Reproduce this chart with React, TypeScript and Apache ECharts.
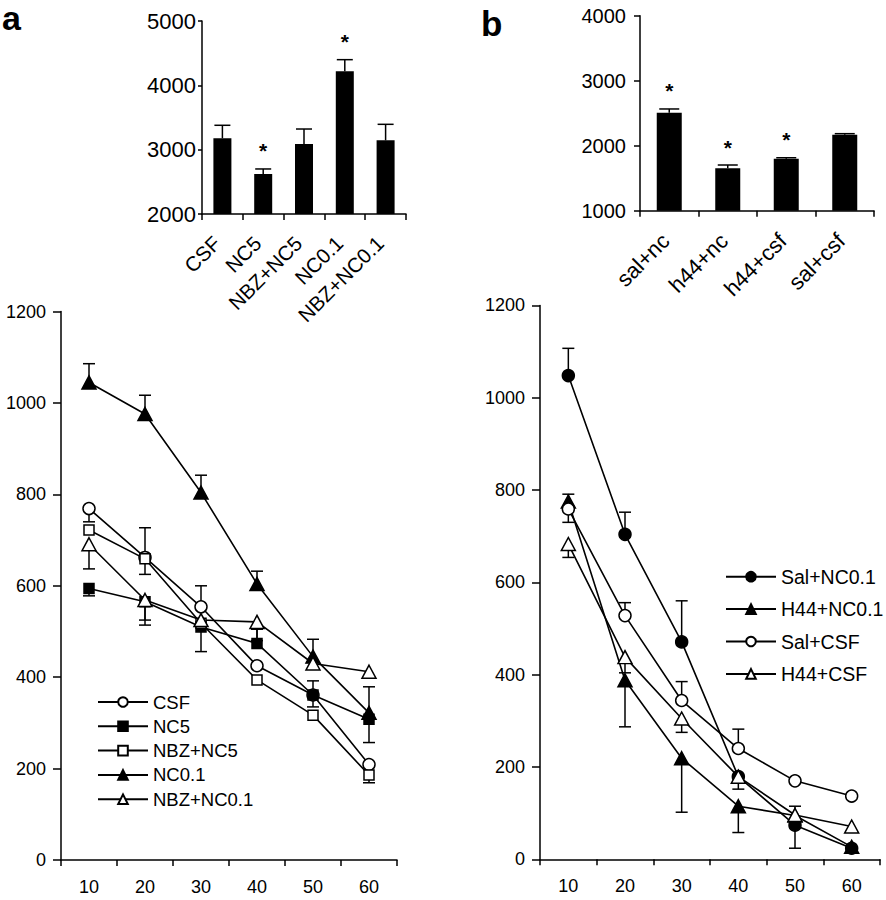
import React, { useEffect, useRef } from 'react';
import * as echarts from 'echarts';

const FONT = '"Liberation Sans", Arial, Helvetica, sans-serif';

// ---- Panel a (top): bar chart ----
const barCatsA = ['CSF', 'NC5', 'NBZ+NC5', 'NC0.1', 'NBZ+NC0.1'];
const barValsA = [3177, 2622, 3088, 4218, 3145];
const barErrTopA = [3379, 2700, 3321, 4399, 3394];
const barSigA = [false, true, false, true, false];

// ---- Panel b (top): bar chart ----
const barCatsB = ['sal+nc', 'h44+nc', 'h44+csf', 'sal+csf'];
const barValsB = [2508, 1652, 1800, 2169];
const barErrTopB = [2565, 1703, 1815, 2185];
const barSigB = [true, true, true, false];

// ---- Time categories (bottom charts) ----
const timeCats = ['10', '20', '30', '40', '50', '60'];

// ---- Panel a (bottom): line chart ----
const aCSF = [769, 662, 554, 425, 361, 209];
const aCSFErr = [740, 727, 600, null, 392, null];
const aNC5 = [594, 565, 510, 474, 361, 308];
const aNC5Err = [578, 514, 456, 505, 335, 257];
const aNBZNC5 = [722, 659, 518, 394, 317, 186];
const aNBZNC5Err = [null, 625, null, null, null, 169];
const aNC01 = [1045, 976, 804, 604, 445, 322];
const aNC01Err = [1086, 1017, 842, 632, 483, 379];
const aNBZNC01 = [691, 569, 525, 521, 430, 412];
const aNBZNC01Err = [637, 525, null, 480, null, null];

// ---- Panel b (bottom): line chart ----
const bSalNC01 = [1048, 704, 471, 179, 74, 24];
const bSalNC01Err = [1107, 752, 560, null, 24, null];
const bH44NC01 = [775, 388, 219, 115, 95, 27];
const bH44NC01Err = [791, 287, 102, 58, null, null];
const bSalCSF = [759, 528, 344, 240, 170, 137];
const bSalCSFErr = [730, 556, 385, 282, null, null];
const bH44CSF = [683, 438, 305, 179, 96, 71];
const bH44CSFErr = [654, 404, 275, 152, 115, null];

type LineDef = { name: string; values: number[]; err: (number | null)[]; symbol: string; filled: boolean };

const leftLines: LineDef[] = [
  { name: 'CSF', values: aCSF, err: aCSFErr, symbol: 'circle', filled: false },
  { name: 'NC5', values: aNC5, err: aNC5Err, symbol: 'rect', filled: true },
  { name: 'NBZ+NC5', values: aNBZNC5, err: aNBZNC5Err, symbol: 'rect', filled: false },
  { name: 'NC0.1', values: aNC01, err: aNC01Err, symbol: 'triangle', filled: true },
  { name: 'NBZ+NC0.1', values: aNBZNC01, err: aNBZNC01Err, symbol: 'triangle', filled: false },
];

const rightLines: LineDef[] = [
  { name: 'Sal+NC0.1', values: bSalNC01, err: bSalNC01Err, symbol: 'circle', filled: true },
  { name: 'H44+NC0.1', values: bH44NC01, err: bH44NC01Err, symbol: 'triangle', filled: true },
  { name: 'Sal+CSF', values: bSalCSF, err: bSalCSFErr, symbol: 'circle', filled: false },
  { name: 'H44+CSF', values: bH44CSF, err: bH44CSFErr, symbol: 'triangle', filled: false },
];

const symbolSize = (s: string) => (s === 'triangle' ? [14, 13] : s === 'rect' ? 10 : 12);

const errorRender = (capHalf: number) => (params: any, api: any) => {
  const x = api.value(0);
  const v = api.value(1);
  const e = api.value(2);
  const p0 = api.coord([x, v]);
  const p1 = api.coord([x, e]);
  const st = { stroke: '#000', lineWidth: 1.5 };
  return {
    type: 'group',
    children: [
      { type: 'line', shape: { x1: p0[0], y1: p0[1], x2: p1[0], y2: p1[1] }, style: st },
      { type: 'line', shape: { x1: p1[0] - capHalf, y1: p1[1], x2: p1[0] + capHalf, y2: p1[1] }, style: st },
    ],
  };
};

const starRender = (params: any, api: any) => {
  const x = api.value(0);
  const e = api.value(1);
  const p = api.coord([x, e]);
  return {
    type: 'text',
    x: p[0],
    y: p[1] - 18,
    style: { text: '*', font: `bold 21px ${FONT}`, fill: '#000', align: 'center', verticalAlign: 'middle' },
  };
};

const axisLineStyle = { color: '#000', width: 1.5 };
const plainNumber = (v: number) => String(v);

function lineSeries(defs: LineDef[], axisIdx: number) {
  const out: any[] = [];
  defs.forEach((d) => {
    out.push({
      name: d.name,
      type: 'line',
      xAxisIndex: axisIdx,
      yAxisIndex: axisIdx,
      data: d.values,
      symbol: d.symbol,
      symbolSize: symbolSize(d.symbol),
      lineStyle: { color: '#000', width: 1.6 },
      itemStyle: { color: d.filled ? '#000' : '#fff', borderColor: '#000', borderWidth: 1.5 },
      z: 3,
    });
  });
  const errData: any[] = [];
  defs.forEach((d) => {
    d.err.forEach((e, i) => {
      if (e !== null) errData.push([i, d.values[i], e]);
    });
  });
  out.push({
    type: 'custom',
    xAxisIndex: axisIdx,
    yAxisIndex: axisIdx,
    renderItem: errorRender(6),
    data: errData,
    clip: false,
    z: 2,
  });
  return out;
}

function barSeries(vals: number[], errTop: number[], sig: boolean[], axisIdx: number, barWidth: number, capHalf: number) {
  return [
    {
      type: 'bar',
      xAxisIndex: axisIdx,
      yAxisIndex: axisIdx,
      data: vals,
      barWidth,
      itemStyle: { color: '#000' },
      z: 3,
    },
    {
      type: 'custom',
      xAxisIndex: axisIdx,
      yAxisIndex: axisIdx,
      renderItem: errorRender(capHalf),
      data: vals.map((v, i) => [i, v, errTop[i]]),
      clip: false,
      z: 2,
    },
    {
      type: 'custom',
      xAxisIndex: axisIdx,
      yAxisIndex: axisIdx,
      renderItem: starRender,
      data: errTop.map((e, i) => (sig[i] ? [i, e] : null)).filter((x) => x !== null),
      clip: false,
      z: 4,
    },
  ];
}

function catAxis(gridIndex: number, data: string[], label: any) {
  return {
    gridIndex,
    type: 'category',
    data,
    axisLine: { show: true, lineStyle: axisLineStyle },
    axisTick: { show: true, length: 6, lineStyle: axisLineStyle },
    axisLabel: { interval: 0, color: '#000', fontFamily: FONT, ...label },
    splitLine: { show: false },
  };
}

function valAxis(gridIndex: number, min: number, max: number, interval: number, tickLen: number, label: any) {
  return {
    gridIndex,
    type: 'value',
    min,
    max,
    interval,
    axisLine: { show: true, lineStyle: axisLineStyle },
    axisTick: { show: true, length: tickLen, lineStyle: axisLineStyle },
    axisLabel: { color: '#000', fontFamily: FONT, formatter: plainNumber, ...label },
    splitLine: { show: false },
  };
}

export default function App() {
  const ref = useRef<HTMLDivElement>(null);
  useEffect(() => {
    if (!ref.current) return;
    const chart = echarts.init(ref.current, null, { renderer: 'svg' });
    const option: any = {
      animation: false,
      backgroundColor: '#fff',
      grid: [
        { left: 202, top: 21, width: 204, height: 193 },
        { left: 640, top: 15.7, width: 234, height: 195 },
        { left: 61, top: 311.6, width: 336, height: 548.4 },
        { left: 540, top: 305.4, width: 340, height: 553.9 },
      ],
      xAxis: [
        catAxis(0, barCatsA, { rotate: 45, margin: 20, fontSize: 20.5, padding: [0, 8, 0, 0] }),
        catAxis(1, barCatsB, { rotate: 45, margin: 23, fontSize: 22, padding: [0, 5, 0, 0] }),
        catAxis(2, timeCats, { margin: 18, fontSize: 18 }),
        catAxis(3, timeCats, { margin: 18, fontSize: 18 }),
      ],
      yAxis: [
        valAxis(0, 2000, 5000, 1000, 4, { margin: 6, fontSize: 22 }),
        valAxis(1, 1000, 4000, 1000, 6, { margin: 14, fontSize: 20 }),
        valAxis(2, 0, 1200, 200, 8, { margin: 15, fontSize: 18 }),
        valAxis(3, 0, 1200, 200, 8, { margin: 15, fontSize: 18 }),
      ],
      legend: [
        {
          data: leftLines.map((d) => d.name),
          orient: 'vertical',
          left: 97,
          top: 692,
          padding: 0,
          itemWidth: 50,
          itemHeight: 12,
          itemGap: 4.3,
          textStyle: { fontSize: 18.5, fontFamily: FONT, color: '#000', lineHeight: 20 },
        },
        {
          data: rightLines.map((d) => d.name),
          orient: 'vertical',
          left: 725,
          top: 566.7,
          padding: 0,
          itemWidth: 50,
          itemHeight: 12,
          itemGap: 12.4,
          textStyle: { fontSize: 19.5, fontFamily: FONT, color: '#000', lineHeight: 20 },
        },
      ],
      graphic: [
        {
          type: 'text',
          left: 2,
          top: 1,
          style: { text: 'a', font: `bold 34px ${FONT}`, fill: '#000', lineHeight: 20 },
        },
        {
          type: 'text',
          left: 481,
          top: 5.5,
          style: { text: 'b', font: `bold 35px ${FONT}`, fill: '#000', lineHeight: 20 },
        },
      ],
      series: [
        ...barSeries(barValsA, barErrTopA, barSigA, 0, 18, 8),
        ...barSeries(barValsB, barErrTopB, barSigB, 1, 25, 10),
        ...lineSeries(leftLines, 2),
        ...lineSeries(rightLines, 3),
      ],
    };
    chart.setOption(option);
    return () => chart.dispose();
  }, []);
  return (
    <div
      ref={ref}
      style={{ position: 'absolute', left: 0, top: 0, width: 886, height: 900, background: '#fff' }}
    />
  );
}
